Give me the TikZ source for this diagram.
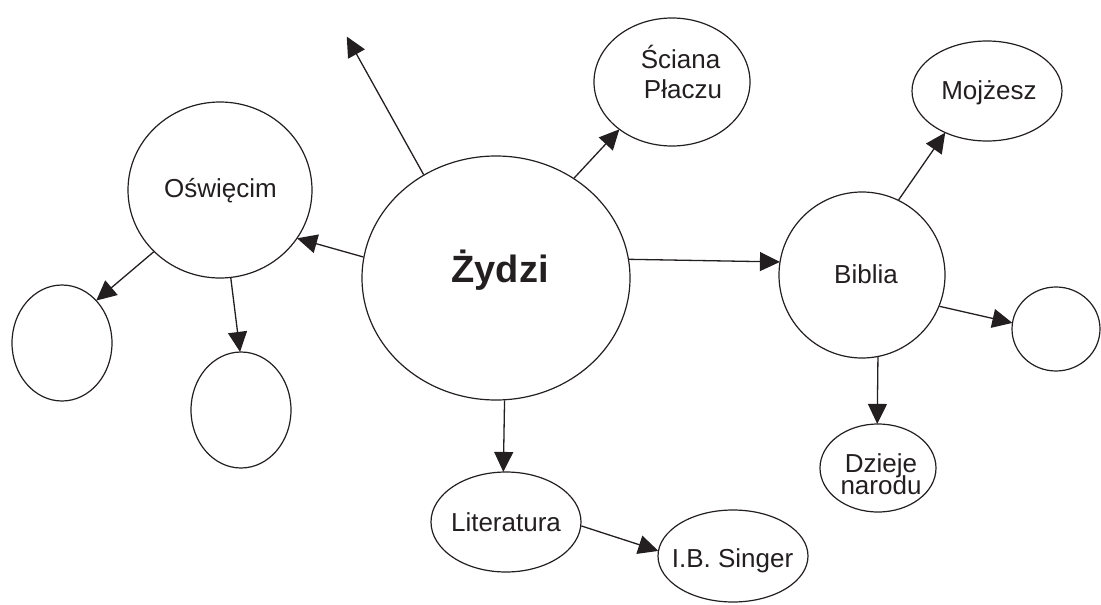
\documentclass[tikz,border=0pt]{standalone}
\usepackage{fontspec}
\setmainfont{Liberation Sans}
\usetikzlibrary{shapes.geometric,arrows.meta}
\definecolor{ink}{HTML}{231F20}
\newcommand\tightlines{\lineskiplimit=-50pt\relax}
\tikzset{
  bub/.style={draw=ink, line width=1.2pt, ellipse, inner sep=0pt, fill=white},
  lbl/.style={anchor=base, inner sep=0pt, text=ink, font=\fontsize{26}{26}\selectfont},
  conn/.style={draw=ink, line width=1.3pt, -{Triangle[length=20pt,width=19pt]}, shorten >=-0.5pt}
}
\begin{document}
\begin{tikzpicture}[x=1pt,y=-1pt]
\useasboundingbox (0,0) rectangle (1101,605);
% ellipses
\node[bub, minimum width=268pt, minimum height=244pt] (zyd) at (496,278) {};
\node[bub, minimum width=156pt, minimum height=128pt] (sci) at (672,82) {};
\node[bub, minimum width=184pt, minimum height=176pt] (osw) at (220,190) {};
\node[bub, minimum width=100pt, minimum height=116pt] (e1) at (62,343) {};
\node[bub, minimum width=100pt, minimum height=116pt] (e2) at (241,410) {};
\node[bub, minimum width=166pt, minimum height=166pt] (bib) at (862,275) {};
\node[bub, minimum width=150pt, minimum height=100pt] (moj) at (987,91) {};
\node[bub, minimum width=88pt, minimum height=84pt] (e3) at (1056,329) {};
\node[bub, minimum width=116pt, minimum height=88pt] (dzi) at (878,468) {};
\node[bub, minimum width=150pt, minimum height=100pt] (lit) at (506,522) {};
\node[bub, minimum width=150pt, minimum height=92pt] (sin) at (733,556) {};
\coordinate (free) at (347,37);
% texts
\node[lbl, font=\fontsize{38}{38}\selectfont\bfseries] (tzyd) at (500,282) {Żydzi};
\node[lbl, align=center, font={\fontsize{26}{30}\selectfont\tightlines}] (tsci) at (680.5,98) {Ściana\\\hspace*{5pt}Płaczu};
\node[lbl] (tosw) at (220.5,197) {Oświęcim};
\node[lbl] (tbib) at (866,283) {Biblia};
\node[lbl] (tmoj) at (989,99) {Mojżesz};
\node[lbl, align=center, font={\fontsize{26}{22}\selectfont\tightlines}] (tdzi) at (881,494) {Dzieje\\narodu};
\node[lbl] (tlit) at (506,531) {Literatura};
\node[lbl] (tsin) at (732.5,567) {I.B. Singer};
% connectors
\draw[conn] (zyd.125.8) -- (free);
\draw[conn] (zyd.52.8) -- (sci.-138);
\draw[conn] (zyd.171) -- (osw.-32);
\draw[conn] (zyd.8.5) -- (bib.171);
\draw[conn] (zyd.-86.8) -- (lit.93.4);
\draw[conn] (osw.-137.2) -- (e1.51.2);
\draw[conn] (osw.-83.5) -- (e2.91);
\draw[conn] (bib.64.7) -- (moj.-135.7);
\draw[conn] (bib.-22.9) -- (e3.172);
\draw[conn] (bib.-79.8) -- (dzi.91.3);
\draw[conn] (lit.-3) -- (sin.176);
\end{tikzpicture}
\end{document}
